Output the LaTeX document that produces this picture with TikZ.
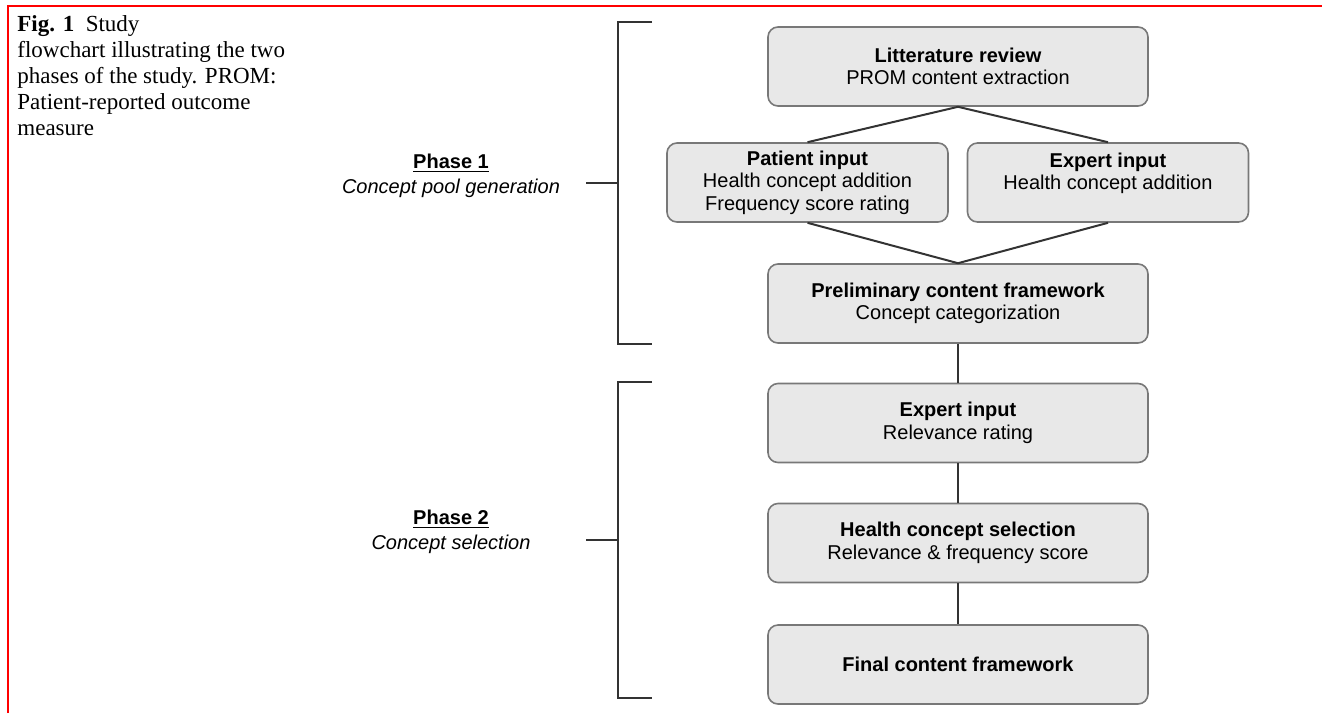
\documentclass[tikz,border=0pt]{standalone}
\usepackage{fontspec}
\setmainfont{Liberation Sans}
\newfontfamily\capfont{Liberation Serif}
\definecolor{boxfill}{HTML}{E8E8E8}
\definecolor{boxline}{HTML}{787878}
\definecolor{linkgray}{HTML}{333333}
\begin{document}
\begin{tikzpicture}[x=0.5pt,y=-0.5pt,
  stage/.style={draw=boxline, fill=boxfill, line width=0.8pt, rounded corners=5pt,
    minimum width=190pt, minimum height=39.5pt, inner sep=0pt, align=center,
    font=\fontsize{10}{11.25}\selectfont},
  halfstage/.style={stage, minimum width=140.5pt},
  link/.style={draw=linkgray, line width=1pt},
  phase/.style={align=center, font=\fontsize{10}{12.5}\selectfont}]
\useasboundingbox (0,0) rectangle (1322,713);
\draw[red, line width=1pt] (8,713) -- (8,6) -- (1322,6);
% caption
\node[anchor=north west, inner sep=0pt, align=left,
  font=\capfont\fontsize{11.5}{13}\selectfont] (caption) at (17,15)
  {\textbf{Fig. 1}\enspace Study\\ flowchart illustrating the two\\
   phases of the study. PROM:\\ Patient-reported outcome\\ measure};
% boxes
\node[stage] (lit) at (958,66.5) {\textbf{Litterature review}\\ PROM content extraction};
\node[halfstage] (patient) at (807.5,182.5) {\textbf{Patient input}\\ Health concept addition\\ Frequency score rating};
\node[halfstage] (expertA) at (1108,182.5) {\textbf{Expert input}\\ Health concept addition\\ \mbox{}};
\node[stage] (prelim) at (958,303.5) {\textbf{Preliminary content framework}\\ Concept categorization};
\node[stage] (expertB) at (958,423) {\textbf{Expert input}\\ Relevance rating};
\node[stage] (select) at (958,543) {\textbf{Health concept selection}\\ Relevance \& frequency score};
\node[stage] (final) at (958,664.5) {\textbf{Final content framework}};
% connectors
\draw[link] (patient.north) -- (lit.south) -- (expertA.north);
\draw[link] (patient.south) -- (prelim.north) -- (expertA.south);
\draw[link] (prelim) -- (expertB);
\draw[link] (expertB) -- (select);
\draw[link] (select) -- (final);
% phases
\node[phase] (ph1) at (451,176) {\textbf{\underline{Phase 1}}\\ \textit{Concept pool generation}};
\node[phase] (ph2) at (451,532) {\textbf{\underline{Phase 2}}\\ \textit{Concept selection}};
\coordinate (b1a) at (652,22);
\coordinate (b1b) at (652,344);
\coordinate (b1m) at (618,183);
\coordinate (t1) at (586,183);
\coordinate (b2a) at (652,382);
\coordinate (b2b) at (652,698);
\coordinate (b2m) at (618,540);
\coordinate (t2) at (586,540);
\draw[link] (b1a) -- (618,22) -- (618,344) -- (b1b);
\draw[link] (b1m) -- (t1);
\draw[link] (b2a) -- (618,382) -- (618,698) -- (b2b);
\draw[link] (b2m) -- (t2);
\end{tikzpicture}
\end{document}
